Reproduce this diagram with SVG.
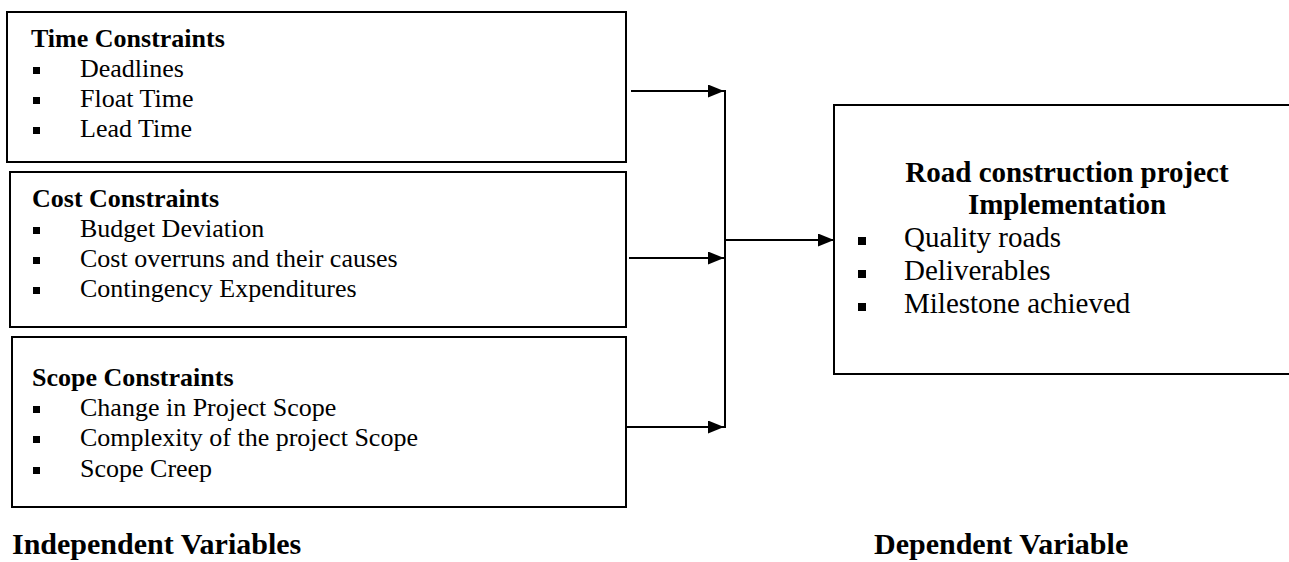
<svg xmlns="http://www.w3.org/2000/svg" width="1289" height="562" viewBox="0 0 1289 562">
<style>
.box{fill:#fff;stroke:#000;stroke-width:2}
.t{font-family:"Liberation Serif","Times New Roman",serif;font-size:26px;fill:#000}
.h{font-family:"Liberation Serif","Times New Roman",serif;font-size:26px;font-weight:bold;fill:#000}
.rt{font-family:"Liberation Serif","Times New Roman",serif;font-size:29px;fill:#000}
.rh{font-family:"Liberation Serif","Times New Roman",serif;font-size:29px;font-weight:bold;fill:#000}
.lab{font-family:"Liberation Serif","Times New Roman",serif;font-size:30px;font-weight:bold;fill:#000}
.b{fill:#000}
.c{fill:none;stroke:#000;stroke-width:2}
</style>
<defs>
<marker id="ah" markerWidth="16" markerHeight="13" refX="16" refY="6.5" orient="auto" markerUnits="userSpaceOnUse">
<path d="M0,0 L16,6.5 L0,13 Z" fill="#000"/>
</marker>
</defs>
<rect width="1289" height="562" fill="#fff"/>
<g id="time">
<rect class="box" x="7" y="12" width="619" height="150"/>
<text class="h" x="31" y="47">Time Constraints</text>
<rect class="b" x="33" y="67" width="7" height="7"/><text class="t" x="80" y="77">Deadlines</text>
<rect class="b" x="33" y="97" width="7" height="7"/><text class="t" x="80" y="107">Float Time</text>
<rect class="b" x="33" y="127" width="7" height="7"/><text class="t" x="80" y="137">Lead Time</text>
</g>
<g id="cost">
<rect class="box" x="10" y="172" width="616" height="155"/>
<text class="h" x="32" y="207">Cost Constraints</text>
<rect class="b" x="33" y="227" width="7" height="7"/><text class="t" x="80" y="237">Budget Deviation</text>
<rect class="b" x="33" y="257" width="7" height="7"/><text class="t" x="80" y="267">Cost overruns and their causes</text>
<rect class="b" x="33" y="287" width="7" height="7"/><text class="t" x="80" y="297">Contingency Expenditures</text>
</g>
<g id="scope">
<rect class="box" x="12" y="337" width="614" height="170"/>
<text class="h" x="32" y="386">Scope Constraints</text>
<rect class="b" x="33" y="406" width="7" height="7"/><text class="t" x="80" y="416">Change in Project Scope</text>
<rect class="b" x="33" y="436" width="7" height="7"/><text class="t" x="80" y="446">Complexity of the project Scope</text>
<rect class="b" x="33" y="467" width="7" height="7"/><text class="t" x="80" y="477">Scope Creep</text>
</g>
<g id="road">
<rect class="box" x="834" y="105" width="460" height="269"/>
<text class="rh" x="1067" y="182" text-anchor="middle">Road construction project</text>
<text class="rh" x="1067" y="214" text-anchor="middle">Implementation</text>
<rect class="b" x="858" y="237" width="8" height="8"/><text class="rt" x="904" y="247">Quality roads</text>
<rect class="b" x="858" y="270" width="8" height="8"/><text class="rt" x="904" y="280">Deliverables</text>
<rect class="b" x="858" y="303" width="8" height="8"/><text class="rt" x="904" y="313">Milestone achieved</text>
</g>
<g id="labels">
<text class="lab" x="12" y="554">Independent Variables</text>
<text class="lab" x="874" y="554">Dependent Variable</text>
</g>
<g id="connectors">
<line class="c" x1="631" y1="91" x2="724" y2="91" marker-end="url(#ah)"/>
<line class="c" x1="629" y1="258" x2="724" y2="258" marker-end="url(#ah)"/>
<line class="c" x1="626" y1="427" x2="724" y2="427" marker-end="url(#ah)"/>
<line class="c" x1="725" y1="90" x2="725" y2="428"/>
<line class="c" x1="725" y1="240" x2="834" y2="240" marker-end="url(#ah)"/>
</g>
</svg>
